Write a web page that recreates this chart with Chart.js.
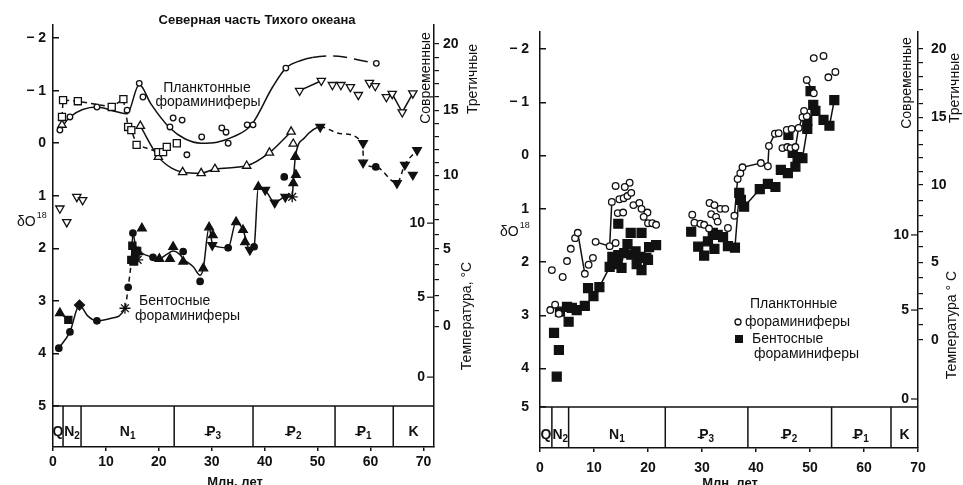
<!DOCTYPE html>
<html lang="ru">
<head>
<meta charset="utf-8">
<title>δO18 — Северная часть Тихого океана</title>
<script src="https://cdn.jsdelivr.net/npm/chart.js@4.4.1/dist/chart.umd.min.js"></script>
<style>
  html, body { margin: 0; padding: 0; background: #fff; }
  canvas { position: absolute; top: 0; }
  #left { left: 0; }
  #right { left: 481px; }
</style>
</head>
<body>
<canvas id="left" width="481" height="485"></canvas>
<canvas id="right" width="482" height="485"></canvas>
<script>
// Oxygen isotope curves: North Pacific (left) and second site (right)

const ink = "#111";
const fam = '"Liberation Sans", Arial, sans-serif';

// shared axis labelling
const xTicks = [0, 10, 20, 30, 40, 50, 60, 70];
const stageNames = ["Q", "N", "N", "P", "P", "P", "K"];
const stageSubs = ["", "2", "1", "3", "2", "1", ""];
const modernTemps = [0, 5, 10, 15, 20];
const tertiaryTemps = [0, 5, 10];
const yTickLabels = ["− 2", "− 1", "0", "1", "2", "3", "4", "5"];

// ---------- left panel ----------
const lYTicks = [-2, -1, 0, 1, 2, 3, 4, 5];
const lStageBounds = [1.9, 5.3, 22.9, 37.8, 53.3, 64.3];
const lModernAt = [3.48, 2.01, 0.61, -0.63, -1.89];   // δ where 0,5,10,15,20 °C sit
const lTertiaryAt = [4.45, 2.93, 1.52];               // δ where 0,5,10 °C sit

// planktonic, open circles + fitted curve
const lPlankX = [1.3, 3.2, 8.3, 14.0, 16.3, 17.0, 22.1, 22.7, 24.4, 25.3, 28.1, 31.9, 32.7, 33.1, 36.7, 37.8, 44.0, 61.1];
const lPlankY = [-0.25, -0.5, -0.69, -0.63, -1.14, -0.88, -0.31, -0.48, -0.44, 0.22, -0.12, -0.29, -0.21, 0.0, -0.35, -0.35, -1.43, -1.52];
const lPlankCurveX = [1.3, 3.2, 8.3, 12.0, 14.0, 16.3, 18.5, 22.0, 25.0, 28.0, 31.0, 34.0, 37.5, 41.5, 44.0, 47.0, 49.0, 52.0, 55.0, 58.0, 61.1];
const lPlankCurveY = [-0.25, -0.5, -0.69, -0.6, -0.56, -1.12, -0.75, -0.3, -0.08, 0.0, -0.02, -0.12, -0.35, -1.07, -1.43, -1.58, -1.63, -1.66, -1.64, -1.58, -1.52];

// planktonic, open squares (dashed)
const lSquareX = [1.7, 1.9, 4.7, 11.1, 13.3, 14.2, 14.8, 15.8, 19.9, 20.8, 21.5, 23.4];
const lSquareY = [-0.5, -0.82, -0.8, -0.69, -0.84, -0.31, -0.25, 0.03, 0.17, 0.17, 0.07, 0.0];

// planktonic, open triangles + curve
const lTriX = [1.7, 16.5, 19.9, 24.5, 28.0, 30.6, 36.6, 40.9, 45.0, 45.4];
const lTriY = [-0.35, -0.33, 0.26, 0.55, 0.57, 0.49, 0.43, 0.18, -0.22, 0.01];
const lTriCurveX = [16.5, 19.9, 22.5, 24.5, 28.0, 30.6, 36.6, 40.9, 45.0];
const lTriCurveY = [-0.33, 0.26, 0.48, 0.55, 0.57, 0.49, 0.43, 0.18, -0.22];

// planktonic, open inverted triangles
const lInvX = [1.3, 2.6, 4.5, 5.6, 46.6, 50.7, 52.8, 54.4, 56.2, 57.7, 59.8, 60.9, 63.0, 64.1, 66.0, 68.0];
const lInvY = [1.24, 1.5, 1.02, 1.08, -1.0, -1.19, -1.11, -1.11, -1.07, -0.92, -1.15, -1.09, -0.88, -0.94, -0.59, -0.95];
const lInvLineX = [46.6, 50.7, null, 59.8, 60.9, null, 63.0, 64.1, 66.0, 68.0];
const lInvLineY = [-1.0, -1.19, null, -1.15, -1.09, null, -0.88, -0.94, -0.59, -0.95];

// benthic markers
const lBenCircX = [1.1, 3.2, 8.3, 14.2, 15.1, 18.9, 24.6, 27.8, 33.1, 38.0, 43.7, 61.0];
const lBenCircY = [3.9, 3.59, 3.38, 2.74, 1.71, 2.17, 2.06, 2.63, 1.99, 1.97, 0.64, 0.45];
const lBenTriX = [1.3, 16.8, 16.1, 20.1, 22.1, 22.7, 24.6, 28.4, 29.5, 30.2, 34.6, 35.9, 36.3, 38.8, 45.4, 45.9, 45.8];
const lBenTriY = [3.23, 1.62, 2.07, 2.2, 2.2, 1.97, 2.25, 2.38, 1.6, 1.75, 1.5, 1.65, 1.88, 0.83, 0.76, 0.6, 0.26];
const lBenInvX = [30.1, 37.2, 40.1, 41.9, 43.9, 50.5, 58.6, 58.6, 65.0, 66.5, 68.0, 68.8];
const lBenInvY = [1.94, 2.03, 0.89, 1.13, 1.02, -0.31, 0.0, 0.37, 0.76, 0.41, 0.6, 0.13];
const lBenSqX = [2.9, 14.8, 15.2, 15.0, 15.6, 15.9];
const lBenSqY = [3.36, 2.22, 2.25, 1.95, 2.1, 2.05];
const lBenDiaX = [5.0];
const lBenDiaY = [3.08];
const lBenStarX = [13.6, 16.0, 45.2];
const lBenStarY = [3.14, 2.22, 1.02];
// benthic line
const lBenLineX = [1.1, 3.2, 5.0, 6.5, 8.3, 11.0, 13.6, 14.2, 14.8, 15.1, 15.6, 16.5, 18.9, 20.1, 21.4, 22.7, 24.0, 24.6, 26.5, 27.8, 28.4, 29.5, 30.2, 33.1, 34.6, 35.9, 37.2, 38.0, 38.8, 40.1, 41.9, 43.9, 45.2, 45.4, 45.8, 47.5, 50.5, 54.5, 58.5, 58.7, 61.0, 65.0, 66.5, 68.8];
const lBenLineY = [3.9, 3.59, 3.08, 3.28, 3.38, 3.33, 3.14, 2.74, 2.22, 1.71, 1.95, 2.07, 2.17, 2.2, 2.12, 2.05, 2.12, 2.2, 2.35, 2.51, 2.38, 1.6, 1.94, 1.99, 1.5, 1.65, 2.03, 1.97, 0.83, 0.89, 1.13, 1.02, 1.02, 0.76, 0.26, -0.1, -0.31, -0.18, 0.0, 0.37, 0.45, 0.76, 0.41, 0.13];
const lBenExtraX = [1.3, 2.9];
const lBenExtraY = [3.23, 3.36];

// ---------- right panel ----------
const rYTicks = [-2, -1, 0, 1, 2, 3, 4, 4.72];       // "5" is written at the strip top
const rStageBounds = [2.2, 5.3, 23.2, 38.5, 54.0, 65.0];
const rModernAt = [3.46, 2.0, 0.55, -0.72, -2.0];
const rTertiaryAt = [4.57, 2.9, 1.49];

const rPlankX = [1.9, 2.8, 3.5, 2.2, 4.2, 5.0, 5.7, 6.5, 7.0, 8.3, 9.0, 9.8, 10.3, 12.9, 14.0, 13.3, 14.0, 14.4, 15.4, 14.7, 15.5, 16.2, 16.6, 15.7, 16.9, 17.3, 18.4, 18.8, 19.9, 19.2, 20.0, 20.8, 21.5,
  28.2, 28.6, 29.7, 30.4, 31.3, 31.4, 32.3, 31.7, 32.6, 32.9, 33.4, 34.3, 34.8, 36.0, 36.6, 37.1, 37.5, 40.9, 42.2, 42.4, 43.5, 44.2, 44.9, 45.7, 45.8, 46.6, 46.4, 47.3, 47.9, 48.6, 49.4, 48.9, 49.4, 50.7, 50.7, 52.5, 53.4, 54.7];
const rPlankY = [2.9, 2.8, 2.97, 2.15, 2.28, 1.98, 1.75, 1.55, 1.45, 2.22, 2.05, 1.92, 1.62, 1.7, 1.64, 0.87, 0.57, 1.08, 1.07, 0.82, 0.8, 0.76, 0.51, 0.59, 0.7, 0.93, 0.89, 1.0, 1.07, 1.15, 1.27, 1.27, 1.3,
  1.11, 1.26, 1.28, 1.3, 1.37, 0.89, 0.93, 1.1, 1.15, 1.24, 1.0, 1.0, 1.36, 1.13, 0.44, 0.33, 0.22, 0.14, 0.2, -0.18, -0.41, -0.42, -0.14, -0.48, -0.16, -0.5, -0.14, -0.16, -0.52, -0.72, -0.74, -0.84, -1.42, -1.17, -1.83, -1.87, -1.47, -1.57];
const rBenX = [2.6, 3.5, 3.1, 3.7, 5.3, 5.0, 5.9, 6.8, 8.3, 8.9, 9.9, 11.0, 12.9, 13.4, 14.5, 14.4, 15.1, 15.6, 14.5, 16.2, 16.8, 16.9, 17.7, 17.9, 18.6, 18.8, 18.8, 19.7, 20.0, 20.2, 21.5,
  28.0, 29.3, 30.4, 31.1, 32.3, 32.9, 33.9, 34.8, 36.1, 32.0, 36.9, 37.2, 37.8, 40.7, 42.2, 43.6, 44.6, 45.9, 47.3, 46.8, 47.7, 48.6, 46.0, 49.5, 49.5, 50.1, 50.6, 51.0, 52.5, 53.6, 54.5];
const rBenY = [3.33, 3.65, 4.15, 2.93, 3.12, 2.84, 2.86, 2.9, 2.82, 2.49, 2.64, 2.47, 2.09, 1.9, 1.87, 2.04, 2.11, 1.83, 1.28, 1.66, 1.45, 1.86, 1.8, 2.04, 1.9, 2.15, 1.45, 1.92, 1.96, 1.72, 1.68,
  1.43, 1.71, 1.88, 1.61, 1.75, 1.49, 1.53, 1.7, 1.73, 1.45, 0.7, 0.83, 0.96, 0.63, 0.53, 0.59, 0.27, 0.33, 0.21, -0.05, 0.03, 0.05, -0.39, -0.5, -0.65, -1.21, -0.95, -0.84, -0.67, -0.56, -1.04];
const rPlankLineX = [7.0, 8.3, null, 10.3, 12.9, 14.0, null, 12.9, 13.3, null, 36.0, 36.6, 37.1, 37.5, 40.9, 42.2, 42.4, 43.5, null, 47.3, 47.9, 48.6, null, 49.4, 50.7];
const rPlankLineY = [1.45, 2.22, null, 1.62, 1.7, 1.64, null, 1.7, 0.87, null, 1.13, 0.44, 0.33, 0.22, 0.14, 0.2, -0.18, -0.41, null, -0.16, -0.52, -0.72, null, -1.42, -1.17];
const rBenLineX = [11.0, 12.9, 13.4, null, 36.1, 36.9, null, 37.8, 40.7, null, 48.6, 49.5, 49.5, null, 53.6, 54.5];
const rBenLineY = [2.47, 2.09, 1.9, null, 1.73, 0.7, null, 0.96, 0.63, null, 0.05, -0.5, -0.65, null, -0.56, -1.04];

// ---------- helpers ----------
function pts(xs, ys) {
  return xs.map((x, i) => ({ x: x === null ? 0 : x, y: ys[i] }));
}

function marks(xs, ys, style, filled, r, rot) {
  return {
    data: pts(xs, ys), showLine: false, order: 1,
    pointStyle: style, pointRadius: r, pointRotation: rot || 0,
    pointBackgroundColor: filled ? ink : "#fff", pointBorderColor: ink, pointBorderWidth: 1.3
  };
}

function path(xs, ys, extra) {
  return Object.assign({
    data: pts(xs, ys), showLine: true, order: 2, pointRadius: 0,
    borderColor: ink, borderWidth: 1.5, spanGaps: false
  }, extra || {});
}

// one tick per degree on the modern scale, labels every 5 degrees
function tempTicks(at) {
  const out = [];
  for (let t = 20; t >= 0; t--) {
    const k = Math.min(3, Math.floor(t / 5));
    const f = (t - modernTemps[k]) / 5;
    out.push({ d: at[k] + (at[k + 1] - at[k]) * f, label: t % 5 === 0 ? String(t) : "" });
  }
  return out;
}

function seg(ctx, x1, y1, x2, y2) {
  ctx.beginPath(); ctx.moveTo(x1, y1); ctx.lineTo(x2, y2); ctx.stroke();
}

function text(ctx, s, x, y, font, align, rot) {
  ctx.save();
  ctx.font = font;
  ctx.textAlign = align || "center";
  ctx.textBaseline = "middle";
  ctx.translate(x, y);
  if (rot) ctx.rotate(-Math.PI / 2);
  ctx.fillText(s, 0, 0);
  ctx.restore();
}

// stage label with subscript, P gets the Paleogene bar
function stageText(ctx, main, sub, cx, cy) {
  const big = "bold 14px " + fam, small = "bold 10px " + fam;
  ctx.font = big;
  const w1 = ctx.measureText(main).width;
  ctx.font = small;
  const w2 = sub ? ctx.measureText(sub).width : 0;
  const x0 = cx - (w1 + w2) / 2;
  ctx.textAlign = "left"; ctx.textBaseline = "middle";
  ctx.font = big; ctx.fillText(main, x0, cy);
  if (sub) { ctx.font = small; ctx.fillText(sub, x0 + w1, cy + 4); }
  if (main === "P") { ctx.lineWidth = 1.3; seg(ctx, x0 - 1.5, cy + 2.5, x0 + 5, cy + 2.5); }
}

function deltaLabel(ctx, x, y) {
  ctx.textAlign = "left"; ctx.textBaseline = "middle";
  ctx.font = "14px " + fam;
  ctx.fillText("δO", x, y);
  const w = ctx.measureText("δO").width;
  ctx.font = "9px " + fam;
  ctx.fillText("18", x + w + 1, y - 6);
}

const tickFont = { family: fam, size: 14, weight: "bold" };
const lbl = "14px " + fam;

const decorCfg = {
  left: {
    boxTop: 5, bounds: lStageBounds, stageDy: 5.5, tert: lTertiaryAt, delta: [17, 222],
    texts: [
      { s: "Северная часть Тихого океана", x: 257, y: 20, font: "bold 13px " + fam },
      { s: "Планктонные", x: 207, y: 88, font: lbl },
      { s: "фораминиферы", x: 208, y: 102, font: lbl },
      { s: "Бентосные", x: 139, y: 301, font: lbl, align: "left" },
      { s: "фораминиферы", x: 135, y: 316, font: lbl, align: "left" },
      { s: "Современные", x: 426, y: 78, font: lbl, rot: true },
      { s: "Третичные", x: 473, y: 79, font: lbl, rot: true },
      { s: "Температура, °C", x: 467, y: 316, font: lbl, rot: true },
      { s: "Млн. лет", x: 235, y: 482, font: "bold 13px " + fam }
    ]
  },
  right: {
    boxTop: 4.72, bounds: rStageBounds, stageDy: 7.5, tert: rTertiaryAt, delta: [19, 232],
    legend: { circle: [257, 322], square: [258, 339] },
    texts: [
      { s: "Современные", x: 426, y: 83, font: lbl, rot: true },
      { s: "Третичные", x: 474, y: 88, font: lbl, rot: true },
      { s: "Температура ° C", x: 471, y: 325, font: lbl, rot: true },
      { s: "Планктонные", x: 269, y: 304, font: lbl, align: "left" },
      { s: "фораминиферы", x: 264, y: 322, font: lbl, align: "left" },
      { s: "Бентосные", x: 271, y: 339, font: lbl, align: "left" },
      { s: "фораминиферы", x: 273, y: 354, font: lbl, align: "left" },
      { s: "Млн. лет", x: 249, y: 483, font: "bold 13px " + fam }
    ]
  }
};

// stage strip, tertiary temperature scale and all free text
const decor = {
  id: "decor",
  afterDraw(chart) {
    const o = decorCfg[chart.canvas.id];
    const ctx = chart.ctx, a = chart.chartArea;
    const xs = chart.scales.x, ys = chart.scales.y;
    ctx.save();
    ctx.strokeStyle = ink; ctx.fillStyle = ink; ctx.lineWidth = 1.5;

    const top = ys.getPixelForValue(o.boxTop);
    seg(ctx, a.left, top, a.right, top);
    o.bounds.forEach(b => {
      const px = xs.getPixelForValue(b);
      seg(ctx, px, top, px, a.bottom);
    });
    const edges = [0].concat(o.bounds, [xs.max]);
    const ly = (top + a.bottom) / 2 + o.stageDy;
    stageNames.forEach((n, i) => {
      const cx = (xs.getPixelForValue(edges[i]) + xs.getPixelForValue(edges[i + 1])) / 2;
      stageText(ctx, n, stageSubs[i], cx, ly);
    });

    ctx.lineWidth = 1.2;
    o.tert.forEach((d, i) => {
      const py = ys.getPixelForValue(d);
      seg(ctx, a.right - 7, py, a.right, py);
      text(ctx, String(tertiaryTemps[i]), a.right - 9, py, "bold 14px " + fam, "right");
    });

    o.texts.forEach(t => text(ctx, t.s, t.x, t.y, t.font, t.align, t.rot));
    deltaLabel(ctx, o.delta[0], o.delta[1]);

    if (o.legend) {
      const c = o.legend.circle, q = o.legend.square;
      ctx.beginPath(); ctx.arc(c[0], c[1], 3, 0, Math.PI * 2);
      ctx.fillStyle = "#fff"; ctx.fill(); ctx.lineWidth = 1.3; ctx.stroke();
      ctx.fillStyle = ink; ctx.fillRect(q[0] - 4, q[1] - 4, 8, 8);
    }
    ctx.restore();
  }
};

function build(id, c) {
  const temps = tempTicks(c.modernAt);
  return new Chart(document.getElementById(id), {
    type: "scatter",
    data: { datasets: c.datasets },
    options: {
      responsive: false, animation: false, events: [], devicePixelRatio: 1,
      layout: { padding: { top: c.top, left: 0, right: 0, bottom: 0 } },
      plugins: { legend: { display: false }, tooltip: { enabled: false } },
      scales: {
        x: {
          type: "linear", min: 0, max: c.xMax,
          afterBuildTicks: s => { s.ticks = xTicks.map(v => ({ value: v })); },
          afterFit: s => { s.height = c.bottomH; },
          ticks: { autoSkip: false, padding: c.xPad, color: ink, font: tickFont, callback: v => String(v) },
          grid: { drawOnChartArea: false, tickLength: 4, color: ink, lineWidth: 1.5 },
          border: { color: ink, width: 1.5 }
        },
        y: {
          type: "linear", reverse: true, min: c.yMin, max: c.yMax,
          afterBuildTicks: s => { s.ticks = c.yTicks.map(v => ({ value: v })); },
          afterFit: s => { s.width = c.leftW; },
          ticks: { autoSkip: false, padding: c.yPad, color: ink, font: tickFont, callback: (v, i) => yTickLabels[i] },
          grid: { drawOnChartArea: false, tickLength: -6, color: ink, lineWidth: 1.5 },
          border: { color: ink, width: 1.5 }
        },
        y2: {
          type: "linear", position: "right", reverse: true, min: c.yMin, max: c.yMax,
          afterBuildTicks: s => { s.ticks = temps.map(t => ({ value: t.d })); },
          afterFit: s => { s.width = c.rightW; },
          ticks: { autoSkip: false, padding: c.y2Pad, color: ink, font: tickFont, callback: (v, i) => temps[i].label },
          grid: { drawOnChartArea: false, tickLength: 5, color: ink, lineWidth: 1.2 },
          border: { color: ink, width: 1.5 }
        }
      }
    },
    plugins: [decor]
  });
}

const dashed = [5, 4];

build("left", {
  top: 25, leftW: 53, rightW: 47, bottomH: 38, xMax: 72,
  yMin: -2.25, yMax: 5.78, yTicks: lYTicks, yPad: 13, xPad: 3, y2Pad: 4,
  modernAt: lModernAt,
  datasets: [
    marks(lPlankX, lPlankY, "circle", false, 2.8),
    marks(lSquareX, lSquareY, "rect", false, 5),
    marks(lTriX, lTriY, "triangle", false, 4.8),
    marks(lInvX, lInvY, "triangle", false, 4.8, 180),
    marks(lBenCircX, lBenCircY, "circle", true, 3.2),
    marks(lBenTriX, lBenTriY, "triangle", true, 5),
    marks(lBenInvX, lBenInvY, "triangle", true, 5, 180),
    marks(lBenSqX, lBenSqY, "rect", true, 5),
    marks(lBenDiaX, lBenDiaY, "rectRot", true, 5),
    marks(lBenStarX, lBenStarY, "star", false, 5.5),
    path(lPlankCurveX, lPlankCurveY, {
      cubicInterpolationMode: "monotone",
      segment: { borderDash: s => s.p0.parsed.x >= 48.9 ? [14, 7] : undefined }
    }),
    path(lSquareX, lSquareY, { borderDash: dashed }),
    path(lTriCurveX, lTriCurveY, { cubicInterpolationMode: "monotone" }),
    path(lInvLineX, lInvLineY),
    path(lBenLineX, lBenLineY, {
      cubicInterpolationMode: "monotone",
      segment: {
        borderDash: s => {
          const x0 = s.p0.parsed.x;
          return (x0 >= 13.6 && x0 < 14.8) || x0 >= 50.5 ? dashed : undefined;
        }
      }
    }),
    path(lBenExtraX, lBenExtraY)
  ]
});

build("right", {
  top: 32, leftW: 59, rightW: 45, bottomH: 37, xMax: 70,
  yMin: -2.32, yMax: 5.49, yTicks: rYTicks, yPad: 17, xPad: 8, y2Pad: 8,
  modernAt: rModernAt,
  datasets: [
    marks(rPlankX, rPlankY, "circle", false, 3.3),
    marks(rBenX, rBenY, "rect", true, 6.3),
    path(rPlankLineX, rPlankLineY),
    path(rBenLineX, rBenLineY)
  ]
});
</script>
</body>
</html>
